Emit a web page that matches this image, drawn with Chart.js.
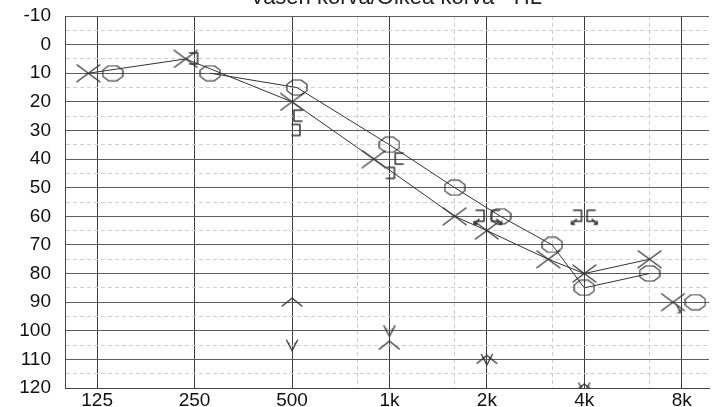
<!DOCTYPE html>
<html><head><meta charset="utf-8">
<script src="https://cdn.jsdelivr.net/npm/chart.js@4.4.1/dist/chart.umd.min.js"></script>
<style>
html,body{margin:0;padding:0;background:#fff;overflow:hidden;width:714px;height:407px}
#wrap{position:absolute;left:0;top:-10px;width:714px;height:417px}
canvas{display:block}
</style></head><body>
<div id="wrap"><canvas id="c" width="714" height="417"></canvas></div>
<script>
// ---------- data ----------
const TITLE = 'Vasen korva/Oikea korva - HL';
const tickFreqs = [125, 250, 500, 1000, 2000, 4000, 8000];
const tickLabels = ['125', '250', '500', '1k', '2k', '4k', '8k'];
const interFreqs = [750, 1500, 3000, 6000];
const dbMin = -10, dbMax = 120;

// right ear, air conduction (O)
const rightFreqs = [125, 250, 500, 1000, 1500, 2000, 3000, 4000, 6000, 8000];
const rightDb    = [10, 10, 15, 35, 50, 60, 70, 85, 80, 90];
// left ear, air conduction (X)
const leftFreqs  = [125, 250, 500, 1000, 1500, 2000, 3000, 4000, 6000, 8000];
const leftDb     = [10, 5, 20, 40, 60, 65, 75, 80, 75, 90];
// masked bone conduction, right "[" and left "]"
const bcRightFreqs = [500, 1000, 2000, 4000];
const bcRightDb    = [25, 40, 60, 60];
const bcRightNoResp = [false, false, true, true];
const bcLeftFreqs  = [250, 500, 1000, 2000, 4000];
const bcLeftDb     = [5, 30, 45, 60, 60];
const bcLeftNoResp = [false, false, false, true, true];
// other symbols ("Λ" and "V")
const upFreqs   = [500, 1000, 2000, 4000];
const upDb      = [90, 105, 110, 120];
const downFreqs = [500, 1000, 2000, 4000];
const downDb    = [105, 100, 110, 120];

// ---------- display styling (symbol side-offsets in octaves) ----------
const rightShift  = [0.16, 0.16, 0.05, 0, 0, 0.14, 0, 0, 0, 0.14];
const leftShift   = [-0.09, -0.09, 0, -0.16, 0, 0, -0.04, 0, 0, -0.09];
const bcRightShift = [0.05, 0.09, 0.08, 0.06];
const bcLeftShift  = [0.0, 0.05, 0.02, -0.06, -0.06];

const INK = '#333';
const FONT = '"Liberation Sans", Arial, sans-serif';
const INTER_FRAC = 0.67;

function octPos(f) {
  const o = Math.log2(f / 125);
  const fl = Math.floor(o + 1e-9);
  return (o - fl) > 0.01 ? fl + INTER_FRAC : fl;
}
function pts(freqs, dbs, shift) {
  return freqs.map((f, i) => ({ x: octPos(f) + (shift ? shift[i] : 0), y: dbs[i] }));
}

// ---------- symbol images ----------
function sym(w, h, draw, lw) {
  const c = document.createElement('canvas');
  c.width = w; c.height = h;
  const g = c.getContext('2d');
  g.strokeStyle = INK; g.lineWidth = lw || 1.2; g.lineCap = 'round'; g.lineJoin = 'round';
  draw(g, w, h);
  return c;
}
const symX = sym(25, 19, (g, w, h) => {
  g.beginPath(); g.moveTo(1, 1); g.lineTo(w - 1, h - 1); g.moveTo(w - 1, 1); g.lineTo(1, h - 1); g.stroke();
});
const symXarrow = sym(31, 25, (g) => {
  g.beginPath(); g.moveTo(4, 4); g.lineTo(27, 21); g.moveTo(27, 4); g.lineTo(4, 21); g.stroke();
  g.beginPath(); g.moveTo(19, 15); g.lineTo(23, 23); g.moveTo(23, 23); g.lineTo(20, 23); g.moveTo(23, 23); g.lineTo(23, 20); g.stroke();
});
const symO = sym(22, 17, (g, w, h) => {
  const cx = w / 2, cy = h / 2, rx = w / 2 - 1, ry = h / 2 - 1;
  g.beginPath();
  for (let k = 0; k < 8; k++) {
    const a = Math.PI / 8 + k * Math.PI / 4;
    const px = cx + rx * Math.cos(a) / Math.cos(Math.PI / 8);
    const py = cy + ry * Math.sin(a) / Math.cos(Math.PI / 8);
    const qx = Math.max(1, Math.min(w - 1, px)), qy = Math.max(1, Math.min(h - 1, py));
    k === 0 ? g.moveTo(qx, qy) : g.lineTo(qx, qy);
  }
  g.closePath(); g.stroke();
});
function bracket(open, arrow) {
  return sym(20, 20, (g) => {
    g.beginPath();
    if (open === '[') { g.moveTo(15, 4); g.lineTo(7, 4); g.lineTo(7, 15); g.lineTo(15, 15); }
    else { g.moveTo(5, 4); g.lineTo(13, 4); g.lineTo(13, 15); g.lineTo(5, 15); }
    g.stroke();
    if (arrow) {
      g.beginPath();
      if (open === '[') { g.moveTo(12, 13); g.lineTo(17, 18); g.lineTo(14, 18); g.moveTo(17, 18); g.lineTo(17, 15); }
      else { g.moveTo(8, 13); g.lineTo(3, 18); g.lineTo(6, 18); g.moveTo(3, 18); g.lineTo(3, 15); }
      g.stroke();
    }
  }, 1.5);
}
const symUp = sym(22, 10, (g, w, h) => {
  g.beginPath(); g.moveTo(1, h - 1); g.lineTo(w / 2, 1); g.lineTo(w - 1, h - 1); g.stroke();
}, 1.3);
const symDown = sym(14, 13, (g, w, h) => {
  g.beginPath(); g.moveTo(1.5, 1.5); g.lineTo(w / 2, h - 1); g.lineTo(w - 1.5, 1.5); g.stroke();
  g.fillStyle = INK; g.fillRect(3, 4, 1.5, 1.5); g.fillRect(w - 4.5, 4, 1.5, 1.5);
}, 1.3);

// ---------- chart ----------
const majorX = tickFreqs.map(octPos);
const interX = interFreqs.map(octPos);
const xTickVals = majorX.concat(interX).sort((a, b) => a - b);
const yTickVals = [];
for (let v = dbMin; v <= dbMax; v += 5) yTickVals.push(v);

function segSkip(skipFirst, lastIdx) {
  return {
    borderColor: (c) => ((skipFirst && c.p0DataIndex === 0) || c.p1DataIndex === lastIdx) ? 'rgba(0,0,0,0)' : INK
  };
}

const titlePlugin = {
  id: 'pageTitle',
  afterDraw(chart) {
    const g = chart.ctx;
    g.save();
    g.font = '22px ' + FONT;
    g.fillStyle = '#222';
    g.textAlign = 'center';
    g.textBaseline = 'alphabetic';
    g.fillText(TITLE, 396, 14);
    g.restore();
  }
};

new Chart(document.getElementById('c'), {
  type: 'scatter',
  data: {
    datasets: [
      { label: 'Oikea (O)', data: pts(rightFreqs, rightDb, rightShift), showLine: true,
        borderColor: INK, borderWidth: 1, pointStyle: symO, segment: segSkip(true, rightFreqs.length - 1) },
      { label: 'Vasen (X)', data: pts(leftFreqs, leftDb, leftShift), showLine: true,
        borderColor: INK, borderWidth: 1,
        pointStyle: leftFreqs.map((f, i) => i === leftFreqs.length - 1 ? symXarrow : symX),
        segment: segSkip(false, leftFreqs.length - 1) },
      { label: 'Luujohto oikea', data: pts(bcRightFreqs, bcRightDb, bcRightShift), showLine: false,
        pointStyle: bcRightNoResp.map(n => bracket('[', n)) },
      { label: 'Luujohto vasen', data: pts(bcLeftFreqs, bcLeftDb, bcLeftShift), showLine: false,
        pointStyle: bcLeftNoResp.map(n => bracket(']', n)) },
      { label: 'Λ', data: pts(upFreqs, upDb), showLine: false, pointStyle: symUp },
      { label: 'V', data: pts(downFreqs, downDb), showLine: false, pointStyle: symDown }
    ]
  },
  options: {
    responsive: false,
    animation: false,
    events: [],
    layout: { padding: { top: 26, left: 0, right: 0, bottom: 0 } },
    plugins: { legend: { display: false }, tooltip: { enabled: false }, title: { display: false } },
    scales: {
      x: {
        type: 'linear',
        min: -0.33, max: 6.28,
        afterBuildTicks: (s) => { s.ticks = xTickVals.map(v => ({ value: v })); },
        afterFit: (s) => { s.height = 19; s.paddingLeft = 0; s.paddingRight = 0; },
        ticks: {
          autoSkip: false, maxRotation: 0, padding: 1, color: '#111',
          font: { family: FONT, size: 19 },
          callback: (v) => { const i = majorX.indexOf(v); return i >= 0 ? tickLabels[i] : ''; }
        },
        grid: {
          drawTicks: false,
          color: (c) => (c.tick && majorX.indexOf(c.tick.value) < 0) ? '#cdcdcd' : '#3c3c3c',
          lineWidth: 1
        },
        border: {
          display: true, color: '#444', width: 1,
          dash: (c) => (c.tick && majorX.indexOf(c.tick.value) < 0) ? [4, 3] : []
        }
      },
      y: {
        type: 'linear', reverse: true, min: dbMin, max: dbMax,
        afterBuildTicks: (s) => { s.ticks = yTickVals.map(v => ({ value: v })); },
        afterFit: (s) => { s.width = 65; s.paddingTop = 0; s.paddingBottom = 0; },
        ticks: {
          autoSkip: false, padding: 14, color: '#111',
          font: { family: FONT, size: 19 },
          callback: (v) => (v % 10 === 0 ? String(v) : '')
        },
        grid: {
          drawTicks: false,
          color: (c) => (c.tick && c.tick.value % 10 !== 0) ? '#d0d0d0' : '#5e5e5e',
          lineWidth: 1
        },
        border: {
          display: true, color: '#444', width: 1,
          dash: (c) => (c.tick && c.tick.value % 10 !== 0) ? [4, 3] : []
        }
      }
    }
  },
  plugins: [titlePlugin]
});
</script>
</body></html>
